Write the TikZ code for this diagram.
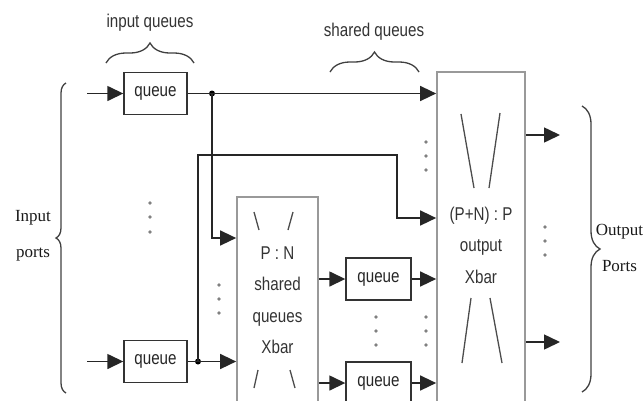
\documentclass[tikz,border=0pt]{standalone}
\usepackage{fontspec}
\setmainfont{Liberation Serif}
\newfontfamily\narrowsf[FakeStretch=0.82]{Liberation Sans}
\usetikzlibrary{arrows.meta,decorations.pathreplacing}
\begin{document}
\begin{tikzpicture}[x=1pt,y=-1pt,
  line/.style={draw=black!85, line width=1.5pt},
  arr/.style={line, -{Triangle[length=16pt,width=15pt]}},
  qbox/.style={draw=black!80, line width=1.4pt, minimum width=63pt, minimum height=42pt, inner sep=0pt, font=\narrowsf\fontsize{18.5}{22}\selectfont, text=black!85},
  bigbox/.style={draw=black!40, line width=1.7pt, inner sep=0pt, align=center, font=\narrowsf\fontsize{18.5}{31.5}\selectfont, text=black!80},
  xline/.style={draw=black!70, line width=1.3pt},
  lbl/.style={font=\narrowsf\fontsize{18.5}{22}\selectfont, text=black!80},
  port/.style={font=\fontsize{17}{36}\selectfont, align=center, text=black!90},
  brc/.style={decorate, draw=black!75, line width=1.3pt},
  jdot/.style={circle, fill=black, inner sep=0pt, minimum size=6pt}
]
\useasboundingbox (0,0) rectangle (644,400);

% boxes
\node[qbox] (q1) at (155.5,93.5) {queue};
\node[qbox] (q2) at (155.5,361.5) {queue};
\node[bigbox, minimum width=81pt, minimum height=206pt] (sx) at (277.5,300) {P : N\\shared\\queues\\Xbar};
\node[bigbox, minimum width=88pt, minimum height=346pt] (ox) at (481,245) {(P+N) : P\\output\\Xbar};
\node[qbox, minimum width=65pt] (sq1) at (378.5,279) {queue};
\node[qbox, minimum width=65pt] (sq2) at (378.5,383) {queue};

% crossbar strokes
\draw[xline] (461,114) -- (474,188);
\draw[xline] (500,113) -- (489,188);
\draw[xline] (471,298) -- (462,363);
\draw[xline] (490,298) -- (502,363);
\draw[xline] (254,212) -- (259,230);
\draw[xline] (293,212) -- (288,230);
\draw[xline] (258,370) -- (254,388);
\draw[xline] (290,370) -- (295,388);

% helper coordinates
\coordinate (in1) at (87,93.5);
\coordinate (in2) at (87,361.5);
\coordinate (rA) at (0,238);
\coordinate (rB) at (0,155);
\coordinate (rC) at (0,218);
\coordinate (rD) at (397,0);
\coordinate (o1) at (560,135);
\coordinate (o2) at (560,342);

\node[jdot] (j1) at (212,93.5) {};
\node[jdot] (j2) at (198,361.5) {};

% connectors
\draw[arr] (in1) -- (q1.west);
\draw[arr] (in2) -- (q2.west);
\draw[line] (q1.east) -- (j1.center);
\draw[line] (q2.east) -- (j2.center);
\draw[arr] (j1.center) -- (ox.west |- j1);
\draw[arr] (j1.center) -- (j1.center |- rA) -- (sx.west |- rA);
\draw[arr] (j2.center) -- (sx.west |- j2);
\draw[arr] (j2.center) -- (j2.center |- rB) -- (rD |- rB) -- (rD |- rC) -- (ox.west |- rC);
\draw[arr] (sx.east |- sq1) -- (sq1.west);
\draw[arr] (sx.east |- sq2) -- (sq2.west);
\draw[arr] (sq1.east) -- (ox.west |- sq1);
\draw[arr] (sq2.east) -- (ox.west |- sq2);
\draw[arr] (ox.east |- o1) -- (o1);
\draw[arr] (ox.east |- o2) -- (o2);

% dots
\foreach \x/\y in {150/203,150/217,150/232, 219/285,219/299,219/313,
  376/317,376/331,376/345, 426/317,426/331,426/345,
  426/142,426/156,426/170, 545/227,545/241,545/255}
  \fill[black!50] (\x,\y) circle (1.9pt);

% braces and labels
\draw[brc, decoration={brace, amplitude=20pt}] (106,63) -- (194,63);
\node[lbl] (lq) at (150,23) {input queues};
\draw[brc, decoration={brace, amplitude=20pt}] (330,72) -- (419,72);
\node[lbl] (ls) at (374,32) {shared queues};
\draw[brc, decoration={brace, amplitude=10pt}] (66,393) -- (66,83);
\node[port] (ip) at (33,236) {Input\\ports};
\draw[brc, decoration={brace, amplitude=18pt}] (582,106) -- (582,392);
\node[port] (op) at (619.5,248) {Output\\Ports};
\end{tikzpicture}
\end{document}
